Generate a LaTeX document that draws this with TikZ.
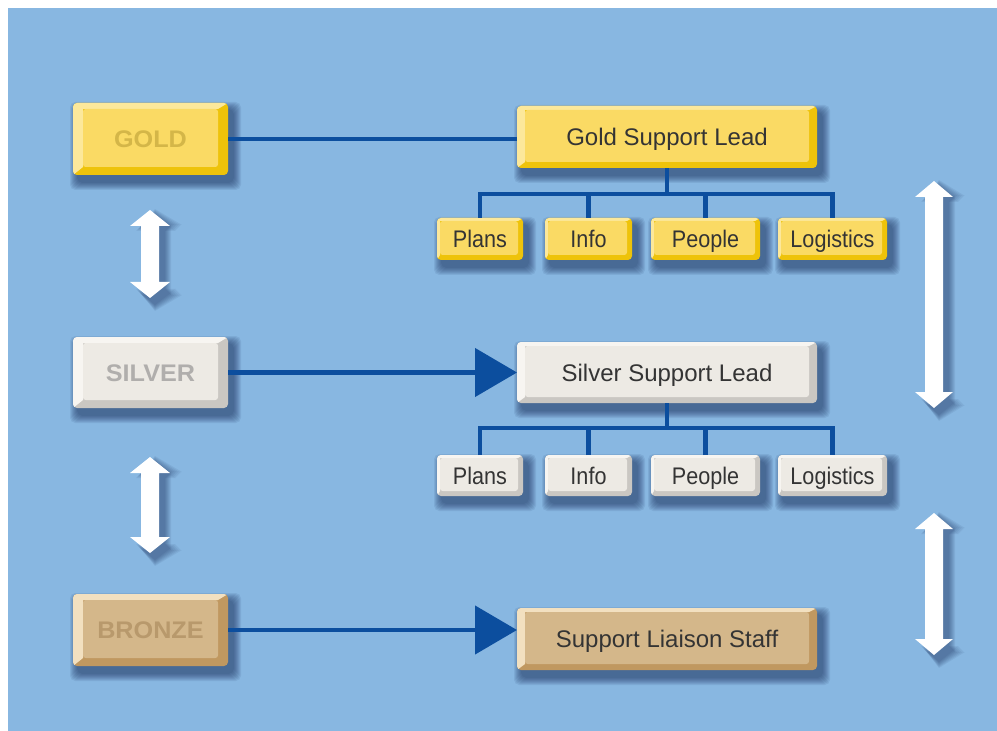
\documentclass[tikz,border=0pt]{standalone}
\usepackage{fontspec}
\setmainfont{Liberation Sans}
\newfontfamily\narrowfont{Liberation Sans}[FakeStretch=0.9]
\newfontfamily\widefont{Liberation Sans}[FakeStretch=1.05]
\usetikzlibrary{arrows.meta,calc}

\newdimen\pxu \pxu=0.75pt
\pgfdeclarelayer{backdrop}
\pgfdeclarelayer{shade}
\pgfsetlayers{backdrop,shade,main}

% palette
\definecolor{sky}{RGB}{136,183,225}
\definecolor{linkblue}{RGB}{12,78,158}
\definecolor{shadowc}{RGB}{20,40,85}
\definecolor{labeltext}{RGB}{52,52,52}
\definecolor{goldface}{RGB}{250,218,100}
\definecolor{goldlight}{RGB}{252,232,155}
\definecolor{golddark}{RGB}{238,195,10}
\definecolor{goldtext}{RGB}{212,182,72}
\definecolor{silverface}{RGB}{237,234,228}
\definecolor{silverlight}{RGB}{247,245,241}
\definecolor{silverdark}{RGB}{202,199,194}
\definecolor{silvertext}{RGB}{176,174,172}
\definecolor{bronzeface}{RGB}{212,183,138}
\definecolor{bronzelight}{RGB}{242,224,192}
\definecolor{bronzedark}{RGB}{192,152,96}
\definecolor{bronzetext}{RGB}{184,153,108}

\tikzset{
  bevel l/.store in=\bevL, bevel t/.store in=\bevT,
  bevel r/.store in=\bevR, bevel b/.store in=\bevB,
  bevel l=4, bevel t=3, bevel r=5, bevel b=5,
  % raised key: #1 face, #2 light edge (top/left), #3 dark edge (right/bottom)
  keycap/.style n args={3}{fill=#3, rounded corners=3pt, inner sep=0pt,
    outer sep=0pt, anchor=north west, text height=13pt, text depth=0pt,
    path picture={
      \fill[#2, sharp corners] (path picture bounding box.north west)
        -- (path picture bounding box.north east)
        -- ([shift={(-\bevR,\bevT)}]path picture bounding box.north east)
        -- ([shift={(\bevL,\bevT)}]path picture bounding box.north west)
        -- ([shift={(\bevL,-\bevB)}]path picture bounding box.south west)
        -- (path picture bounding box.south west) -- cycle;
      \fill[#1, rounded corners=2pt]
        ([shift={(\bevL,\bevT)}]path picture bounding box.north west) rectangle
        ([shift={(-\bevR,-\bevB)}]path picture bounding box.south east);
    }},
  tiercap/.style={bevel l=10, bevel t=6, bevel r=10, bevel b=8,
    minimum width=155*\pxu, minimum height=72*\pxu,
    font=\widefont\bfseries\fontsize{18}{20}\selectfont},
  leadcap/.style={bevel l=8, bevel t=4, bevel r=8, bevel b=6,
    minimum width=300*\pxu, minimum height=62*\pxu, text=labeltext,
    font=\fontsize{18}{20}\selectfont},
  smallcap/.style={bevel l=3, bevel t=3, bevel r=5, bevel b=5,
    minimum height=42*\pxu, text=labeltext,
    font=\narrowfont\fontsize{18}{20}\selectfont},
  goldkey/.style={keycap={goldface}{goldlight}{golddark}},
  silverkey/.style={keycap={silverface}{silverlight}{silverdark}},
  bronzekey/.style={keycap={bronzeface}{bronzelight}{bronzedark}},
  conn/.style={draw=linkblue, line width=3.4pt},
  pointer/.style={conn, -{Triangle[length=31.5pt,width=36pt]}},
}

% white double-headed arrow: centre x, top y, bottom y, head half-width, shaft half-width, options
\newcommand\arrowshape[6]{%
  \fill[#6] (#1,#2) -- (#1+#4,#2+16) -- (#1+#5,#2+16) -- (#1+#5,#3-16)
    -- (#1+#4,#3-16) -- (#1,#3) -- (#1-#4,#3-16) -- (#1-#5,#3-16)
    -- (#1-#5,#2+16) -- (#1-#4,#2+16) -- cycle;}
\newcommand\updown[5]{%
  \begin{pgfonlayer}{shade}
    \foreach \e in {1,...,7}{\arrowshape{#1+5}{#2+6-\e}{#3+6+\e}{#4+\e}{#5+\e}{shadowc,opacity=0.075}}
  \end{pgfonlayer}
  \arrowshape{#1}{#2}{#3}{#4}{#5}{white}}

\begin{document}
\begin{tikzpicture}[x=0.75pt,y=-0.75pt]
  \useasboundingbox (0,0) rectangle (997,731);
  \begin{pgfonlayer}{backdrop}
    \fill[white] (0,0) rectangle (997,731);
    \fill[sky] (8,8) rectangle (997,731);
  \end{pgfonlayer}

  % command tiers
  \node[goldkey, tiercap, text=goldtext] (gold) at (73,103) {GOLD};
  \node[silverkey, tiercap, minimum height=71*\pxu, text=silvertext] (silver) at (73,337) {SILVER};
  \node[bronzekey, tiercap, text=bronzetext] (bronze) at (73,594) {BRONZE};

  % leads
  \node[goldkey, leadcap] (goldlead) at (517,106) {Gold Support Lead};
  \node[silverkey, leadcap, minimum height=61*\pxu] (silverlead) at (517,342) {Silver Support Lead};
  \node[bronzekey, leadcap] (liaison) at (517,608) {Support Liaison Staff};

  % gold cells
  \node[goldkey, smallcap, minimum width=86*\pxu] (gplans) at (437,218) {Plans};
  \node[goldkey, smallcap, minimum width=87*\pxu] (ginfo) at (545,218) {Info};
  \node[goldkey, smallcap, minimum width=109*\pxu] (gpeople) at (651,218) {People};
  \node[goldkey, smallcap, minimum width=109*\pxu] (glog) at (778,218) {Logistics};

  % silver cells
  \node[silverkey, smallcap, minimum width=86*\pxu, minimum height=41*\pxu] (splans) at (437,455) {Plans};
  \node[silverkey, smallcap, minimum width=87*\pxu, minimum height=41*\pxu] (sinfo) at (545,455) {Info};
  \node[silverkey, smallcap, minimum width=109*\pxu, minimum height=41*\pxu] (speople) at (651,455) {People};
  \node[silverkey, smallcap, minimum width=109*\pxu, minimum height=41*\pxu] (slog) at (778,455) {Logistics};

  % soft drop shadows under every key
  \begin{pgfonlayer}{shade}
    \foreach \n in {gold,silver,bronze,goldlead,silverlead,liaison,
                    gplans,ginfo,gpeople,glog,splans,sinfo,speople,slog}{
      \foreach \e in {1,...,8}{
        \fill[shadowc, opacity=0.085, rounded corners=4pt]
          ([shift={(5-\e,7-\e)}]\n.north west) rectangle ([shift={(5+\e,7+\e)}]\n.south east);
      }
    }
  \end{pgfonlayer}

  % tier links
  \draw[conn] (gold.east) -- (gold.east -| goldlead.west);
  \draw[pointer] (silver.east) -- (silver.east -| silverlead.west);
  \draw[pointer] (bronze.east) -- (bronze.east -| liaison.west);

  % gold tree
  \draw[conn] (goldlead.south) -- ++(0,26) coordinate (gbar);
  \draw[conn] (gplans.north) |- (gbar) -| (glog.north);
  \draw[conn] (ginfo.north) -- (ginfo.north |- gbar);
  \draw[conn] (gpeople.north) -- (gpeople.north |- gbar);

  % silver tree
  \draw[conn] (silverlead.south) -- ++(0,25) coordinate (sbar);
  \draw[conn] (splans.north) |- (sbar) -| (slog.north);
  \draw[conn] (sinfo.north) -- (sinfo.north |- sbar);
  \draw[conn] (speople.north) -- (speople.north |- sbar);

  % two-way arrows
  \updown{150}{210}{298}{20}{9}
  \updown{150}{457}{553}{20}{9}
  \updown{934}{181}{408}{19}{9}
  \updown{934}{513}{655}{19}{9}
\end{tikzpicture}
\end{document}
